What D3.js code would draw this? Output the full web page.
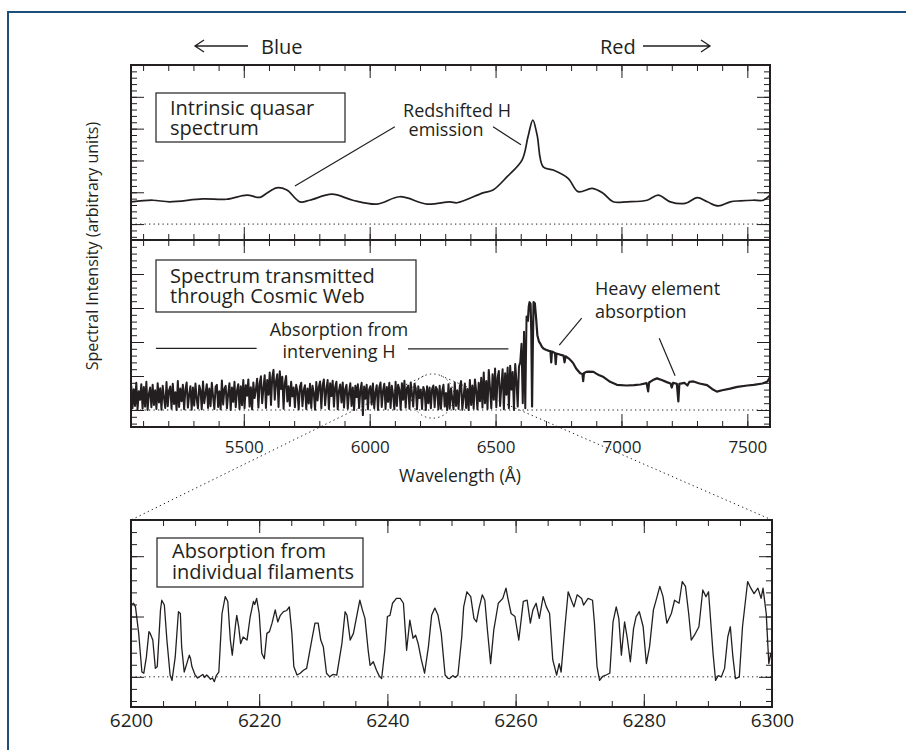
<!DOCTYPE html>
<html>
<head>
<meta charset="utf-8">
<script src="https://d3js.org/d3.v7.min.js"></script>
<style>
  body { margin: 0; background: #fff; }
  svg { display: block; font-family: "Open Sans", sans-serif; }
</style>
</head>
<body>
<svg width="906" height="750"></svg>
<script>
// ---- data ----
var mainTickLabels = [5500, 6000, 6500, 7000, 7500];
var zoomTickLabels = [6200, 6220, 6240, 6260, 6280, 6300];

// intrinsic (smooth) quasar spectrum
var quasarWave = [5052, 5138, 5206, 5337, 5432, 5512, 5564, 5591, 5631, 5671, 5723, 5762, 5850, 5933,
  6029, 6120, 6228, 6319, 6347, 6450, 6490, 6546, 6605, 6629, 6648, 6665, 6689, 6729, 6788, 6828,
  6884, 6927, 6967, 7023, 7102, 7146, 7194, 7253, 7301, 7341, 7385, 7432, 7472, 7524, 7563, 7590];
var quasarFlux = [0.70, 0.75, 0.70, 0.79, 0.78, 0.91, 0.84, 0.97, 1.14, 1.07, 0.70, 0.75, 0.94, 0.75,
  0.63, 0.86, 0.63, 0.70, 0.67, 0.98, 1.07, 1.49, 2.01, 2.75, 3.27, 2.80, 1.80, 1.70, 1.44, 1.02,
  1.12, 0.97, 0.70, 0.70, 0.75, 0.91, 0.70, 0.65, 0.83, 0.70, 0.57, 0.70, 0.73, 0.75, 0.75, 0.91];

// transmitted spectrum: Lyman-alpha forest sampled every 5 A from 5053 A
var forestStart = 5053, forestStep = 5;
var forestFlux = [
  .72,.05,.61,.12,.80,.02,.55,.30,.76,.04,  .68,.10,.83,.00,.47,.66,.08,.74,.15,.58,
  .03,.79,.22,.64,.01,.71,.36,.06,.82,.11,  .57,.69,.04,.77,.18,.52,.00,.85,.09,.63,
  .26,.74,.02,.60,.81,.07,.45,.70,.01,.66,  .13,.78,.33,.05,.72,.58,.02,.84,.20,.49,
  .76,.06,.63,.11,.80,.40,.03,.68,.74,.09,  .55,.02,.87,.16,.62,.71,.05,.48,.79,.00,
  .66,.24,.83,.08,.57,.76,.03,.70,.14,.88,  .05,.73,.42,.90,.10,.67,.02,.81,.35,.60,
  .92,.07,.78,.99,.20,.64,1.02,.06,.88,.45, 1.10,.15,.96,1.18,.30,.85,1.05,.09,1.14,.62,
  .98,.04,.79,1.00,.25,.70,.12,.83,.40,.66, .08,.74,.55,.02,.69,.80,.11,.58,.73,.03,
  .63,.19,.77,.06,.71,.50,.01,.82,.28,.68,  .84,.05,.72,.90,.14,.60,.88,.03,.79,.41,
  .86,.10,.68,.83,.02,.57,.75,.22,.81,.07,  .62,.74,.04,.50,.79,.12,.66,.00,.71,.38,
  .76,.06,.58,.80,-.15,.69,.33,.74,.02,.61, .70,.16,.78,.05,.52,.73,.00,.66,.81,.09,
  .57,.77,.03,.68,.24,.80,.06,.71,.45,.02,  .83,.12,.74,.60,.01,.79,.30,.86,.07,.65,
  .72,.04,.81,.48,.10,.77,.63,.02,.70,.35,  .60,.03,.68,.55,.00,.70,.20,.66,.05,.62,
  .72,.08,.68,.60,.02,.71,.04,.55,.74,.10,  .50,.00,.76,.05,.64,.33,.02,.81,.12,.58,
  .03,.70,.85,.01,.40,.78,.06,.62,.00,.88,  .15,.72,.04,.90,.57,.02,.80,.26,.95,.07,
  1.10,.20,.85,.03,1.18,.64,.05,1.05,.30,1.22, .08,.95,1.15,.12,.70,1.20,.02,1.08,.45,1.25,
  .05,1.30,.60,1.12,.00,1.35,.85,.10,1.28,1.40, 1.95,.20,2.30,.05,2.75
];
// emission peak and red side continuum [wavelength, flux]
var redSide = [[6628,2.6],[6632,3.05],[6635,3.17],[6639,3.12],[6642,2.3],[6645,0.10],[6648,1.9],
  [6651,3.17],[6656,3.14],[6661,2.7],[6666,2.2],[6672,2.02],[6677,1.96],[6684,1.86],[6690,1.81],
  [6700,1.77],[6712,1.74],[6718,1.73],[6721,1.40],[6724,1.72],[6730,1.70],[6736,1.68],[6739,1.35],
  [6742,1.66],[6752,1.64],[6760,1.62],[6770,1.60],[6774,1.40],[6778,1.58],[6790,1.52],[6800,1.45],
  [6809,1.37],[6820,1.22],[6836,1.08],[6845,1.06],[6848,0.85],[6851,1.08],[6860,1.12],[6870,1.13],
  [6889,1.12],[6900,1.07],[6910,1.03],[6929,0.97],[6955,0.83],[6982,0.74],[7020,0.72],[7050,0.73],
  [7075,0.75],[7100,0.79],[7106,0.55],[7110,0.81],[7125,0.88],[7141,0.93],[7160,0.88],[7180,0.82],
  [7195,0.78],[7200,0.66],[7205,0.80],[7220,0.77],[7226,0.25],[7230,0.77],[7250,0.80],[7262,0.72],
  [7270,0.83],[7286,0.84],[7310,0.78],[7340,0.73],[7360,0.62],[7379,0.54],[7400,0.58],[7432,0.63],
  [7460,0.68],[7500,0.72],[7525,0.74],[7560,0.78],[7580,0.84],[7590,0.97]];

// zoomed 6200-6300 A section [wavelength, flux]
var zoomSpectrum = [
  [6200.0,1.19],[6200.4,1.22],[6200.7,1.16],[6201.2,0.72],[6201.7,0.08],[6202.0,0.06],[6202.4,0.33],
  [6202.8,0.75],[6203.0,0.72],[6203.4,0.61],[6203.8,0.14],[6204.1,0.17],[6204.6,1.11],[6204.8,1.27],
  [6205.2,1.19],[6205.6,0.61],[6206.1,0.03],[6206.4,-0.06],[6206.9,0.33],[6207.4,1.08],[6207.7,1.05],
  [6207.9,0.50],[6208.3,0.08],[6208.7,0.22],[6209.1,0.36],[6209.3,0.30],[6209.5,0.17],[6210.0,0.03],
  [6210.4,-0.02],[6210.8,0.01],[6211.2,0.04],[6211.5,-0.01],[6211.8,0.03],[6212.1,0.00],[6212.4,-0.04],
  [6212.7,-0.02],[6213.0,-0.08],[6213.3,0.02],[6213.7,0.08],[6214.2,1.05],[6214.7,1.33],[6215.1,1.25],
  [6215.5,0.61],[6215.8,0.36],[6216.3,0.86],[6216.5,1.02],[6216.8,0.83],[6217.1,0.55],[6217.5,0.66],
  [6218.1,0.61],[6218.6,1.00],[6219.1,1.25],[6219.3,1.20],[6219.6,1.30],[6220.0,1.05],[6220.4,0.39],
  [6220.8,0.30],[6221.2,0.72],[6221.6,0.75],[6222.0,0.89],[6222.5,1.11],[6222.9,0.91],[6223.3,1.02],
  [6223.8,1.08],[6224.3,1.10],[6224.7,1.16],[6225.1,0.72],[6225.4,0.17],[6225.9,0.03],[6226.4,0.06],
  [6226.9,0.11],[6227.4,0.14],[6228.2,0.61],[6228.7,0.89],[6229.2,0.89],[6229.6,0.61],[6230.0,0.50],
  [6230.5,0.06],[6231.0,0.00],[6231.5,0.04],[6232.1,0.03],[6232.9,0.55],[6233.4,1.08],[6233.7,1.02],
  [6234.2,0.61],[6234.7,0.72],[6235.2,1.00],[6235.7,1.27],[6236.1,1.11],[6236.5,0.97],[6237.0,0.44],
  [6237.3,0.19],[6237.8,0.25],[6238.3,0.11],[6238.7,0.02],[6239.1,-0.03],[6239.6,0.44],[6240.0,1.00],
  [6240.4,1.02],[6240.8,1.22],[6241.4,1.30],[6242.0,1.30],[6242.5,1.22],[6243.0,0.44],[6243.5,0.94],
  [6244.0,0.64],[6244.4,0.69],[6244.8,0.55],[6245.3,0.28],[6245.8,0.06],[6246.4,0.50],[6246.9,1.02],
  [6247.4,1.14],[6247.9,1.02],[6248.4,0.72],[6249.0,0.03],[6249.4,-0.02],[6249.7,-0.03],[6250.2,0.02],
  [6250.6,-0.01],[6251.0,0.03],[6251.6,0.66],[6251.9,1.16],[6252.4,1.41],[6253.0,1.33],[6253.5,0.97],
  [6253.9,0.91],[6254.3,1.14],[6254.8,1.36],[6255.2,1.27],[6255.6,0.78],[6256.1,0.22],[6256.6,0.78],
  [6257.3,1.22],[6258.0,1.30],[6258.5,1.47],[6258.8,1.30],[6259.3,1.05],[6259.9,1.00],[6260.5,0.61],
  [6261.2,1.25],[6261.8,1.27],[6262.3,0.89],[6262.7,1.11],[6263.2,1.22],[6263.7,0.97],[6264.3,1.33],
  [6264.8,1.16],[6265.3,1.05],[6265.8,0.28],[6266.4,0.03],[6266.8,0.22],[6267.1,0.08],[6267.7,0.83],
  [6268.2,1.41],[6268.7,1.27],[6269.1,1.16],[6269.6,1.36],[6270.3,1.30],[6270.6,1.19],[6271.3,1.30],
  [6272.0,1.27],[6272.3,0.89],[6272.7,0.17],[6273.1,-0.06],[6273.6,0.01],[6274.1,0.03],[6274.7,0.06],
  [6275.2,0.91],[6275.7,1.16],[6276.1,0.97],[6276.5,0.36],[6277.0,0.91],[6277.4,0.66],[6277.9,0.25],
  [6278.4,0.80],[6278.8,1.00],[6279.3,1.08],[6279.9,0.83],[6280.4,0.22],[6280.9,0.50],[6281.5,1.11],
  [6282.0,1.30],[6282.5,1.50],[6283.0,1.33],[6283.6,0.89],[6284.3,1.05],[6284.8,1.27],[6285.5,1.22],
  [6286.0,1.58],[6286.5,1.50],[6287.0,1.05],[6287.4,0.61],[6287.9,0.69],[6288.6,0.83],[6289.2,1.44],
  [6289.7,1.33],[6290.1,1.41],[6290.8,0.39],[6291.2,-0.06],[6291.6,0.02],[6292.1,0.00],[6292.6,0.14],
  [6293.1,0.66],[6293.5,0.83],[6293.9,0.33],[6294.3,-0.03],[6294.9,0.00],[6295.4,0.83],[6296.2,1.58],
  [6296.7,1.47],[6297.2,1.38],[6297.8,1.47],[6298.3,1.30],[6298.6,1.47],[6299.1,1.05],[6299.5,0.22],
  [6299.8,0.39],[6300.0,0.30]];

// region of the middle panel that is enlarged below (extent of the dotted ellipse)
var lensWave = [6165, 6335], lensFlux = [-0.24, 1.06];

// ---- layout ----
var svg = d3.select("svg"),
    ink = "#231f20";

var x = d3.scaleLinear().domain([5052, 7590]).range([131, 770]),
    yTop = d3.scaleLinear().domain([-0.5, 5]).range([240, 65]),
    yMid = d3.scaleLinear().domain([-0.5, 5]).range([427, 240]),
    xZoom = d3.scaleLinear().domain([6200, 6300]).range([131, 772]),
    yZoom = d3.scaleLinear().domain([-0.5, 2.6]).range([707, 520]);

svg.append("rect").attr("width", 906).attr("height", 750).attr("fill", "#fff");
// blue page frame
svg.append("path").attr("d", "M8,750V12H906").attr("fill", "none")
    .attr("stroke", "#1d4f7c").attr("stroke-width", 2);

function frame(xs, ys, xMajor, xMinor, yMajor, yMinor) {
  var x0 = xs.range()[0], x1 = xs.range()[1],
      yb = ys.range()[0], yt = ys.range()[1],
      g = svg.append("g").attr("color", ink);
  function ticks(axis, tx, ty, vals, size) {
    g.append("g").attr("transform", "translate(" + tx + "," + ty + ")")
      .call(axis.tickValues(vals).tickSize(size).tickSizeOuter(0).tickFormat(""))
      .call(function(s) { s.select(".domain").remove(); });
  }
  ticks(d3.axisBottom(xs), 0, yb, xMinor, -6);
  ticks(d3.axisBottom(xs), 0, yb, xMajor, -13);
  ticks(d3.axisTop(xs), 0, yt, xMinor, -6);
  ticks(d3.axisTop(xs), 0, yt, xMajor, -13);
  ticks(d3.axisLeft(ys), x0, 0, yMinor, -6);
  ticks(d3.axisLeft(ys), x0, 0, yMajor, -13);
  ticks(d3.axisRight(ys), x1, 0, yMinor, -6);
  ticks(d3.axisRight(ys), x1, 0, yMajor, -13);
  g.append("rect").attr("x", x0).attr("y", yt).attr("width", x1 - x0).attr("height", yb - yt)
    .attr("fill", "none").attr("stroke", ink).attr("stroke-width", 2);
}

function zeroLine(xs, ys) {
  svg.append("line")
    .attr("x1", xs.range()[0]).attr("x2", xs.range()[1])
    .attr("y1", ys(0)).attr("y2", ys(0))
    .attr("stroke", ink).attr("stroke-width", 1).attr("stroke-dasharray", "1.3,3.2");
}

function label(lines, px, py, size, anchor, lh) {
  var t = svg.append("text").attr("x", px).attr("y", py)
    .attr("font-size", size).attr("fill", ink).attr("text-anchor", anchor || "start");
  lines.forEach(function(s, i) {
    t.append("tspan").attr("x", px).attr("dy", i ? lh : 0).text(s);
  });
  return t;
}

function box(x0, y0, w, h) {
  svg.append("rect").attr("x", x0).attr("y", y0).attr("width", w).attr("height", h)
    .attr("fill", "#fff").attr("stroke", ink).attr("stroke-width", 1.2);
}

function leader(xs, ys, a, b) {
  svg.append("line").attr("x1", xs(a[0])).attr("y1", ys(a[1])).attr("x2", xs(b[0])).attr("y2", ys(b[1]))
    .attr("stroke", ink).attr("stroke-width", 1.2);
}

var yMinorMain = d3.range(-2, 25).map(function(i) { return i / 5; }),
    yMinorZoom = d3.range(-2, 13).map(function(i) { return i / 5; }),
    xMinorMain = d3.range(5100, 7600, 100);

// ---- top panel: intrinsic spectrum ----
zeroLine(x, yTop);
svg.append("path")
  .datum(quasarFlux)
  .attr("fill", "none").attr("stroke", ink).attr("stroke-width", 1.7)
  .attr("d", d3.line().curve(d3.curveCatmullRom.alpha(0.5))
    .x(function(d, i) { return x(quasarWave[i]); })
    .y(function(d) { return yTop(d); }));
frame(x, yTop, mainTickLabels, xMinorMain, [0, 1, 2, 3, 4], yMinorMain);

box(156, 93, 189, 49);
label(["Intrinsic quasar", "spectrum"], 170, 115, 20, "start", 19.5);
label(["Redshifted H"], 457, 117, 18, "middle", 0);
label(["emission"], 446, 136, 18, "middle", 0);
leader(x, yTop, [6100, 3.06], [5703, 1.2]);
leader(x, yTop, [6490, 3.06], [6601, 2.49]);

// ---- middle panel: transmitted spectrum ----
zeroLine(x, yMid);
var forest = forestFlux.map(function(v, i) { return [forestStart + i * forestStep, v]; });
var specLine = d3.line()
    .x(function(d) { return x(d[0]); })
    .y(function(d) { return yMid(d[1]); });
svg.append("path")
  .datum(forest.concat(redSide.slice(0, 1)))
  .attr("fill", "none").attr("stroke", ink).attr("stroke-width", 2).attr("stroke-linejoin", "round")
  .attr("d", specLine);
svg.append("path")
  .datum(redSide)
  .attr("fill", "none").attr("stroke", ink).attr("stroke-width", 2.2).attr("stroke-linejoin", "round")
  .attr("d", specLine);
frame(x, yMid, mainTickLabels, xMinorMain, [0, 1, 2, 3, 4], yMinorMain);

box(156, 260, 260, 52);
label(["Spectrum transmitted", "through Cosmic Web"], 170, 283, 20, "start", 19.5);
label(["Absorption from", "intervening H"], 339, 336, 18, "middle", 22);
leader(x, yMid, [5151, 1.81], [5551, 1.81]);
leader(x, yMid, [6152, 1.80], [6551, 1.80]);
label(["Heavy element", "absorption"], 595, 295, 18, "start", 23);
leader(x, yMid, [6842, 2.70], [6753, 1.91]);
leader(x, yMid, [7150, 2.11], [7213, 1.01]);

// x tick labels + title of the main spectra
svg.append("g").attr("transform", "translate(0," + yMid.range()[0] + ")").attr("color", ink)
  .call(d3.axisBottom(x).tickValues(mainTickLabels).tickSize(0).tickPadding(14).tickFormat(d3.format("d")))
  .call(function(s) {
    s.select(".domain").remove();
    s.selectAll("text").attr("font-size", 17).attr("font-family", "Open Sans").attr("fill", ink);
  });
label(["Wavelength (Å)"], 460, 482, 17.5, "middle", 0);

// y title
svg.append("text")
  .attr("transform", "translate(98,246) rotate(-90)")
  .attr("text-anchor", "middle").attr("font-size", 16).attr("fill", ink)
  .text("Spectral Intensity (arbitrary units)");

// lens ellipse and the dotted lines down to the zoom panel
var lcx = x((lensWave[0] + lensWave[1]) / 2), lcy = yMid((lensFlux[0] + lensFlux[1]) / 2),
    lrx = (x(lensWave[1]) - x(lensWave[0])) / 2, lry = (yMid(lensFlux[0]) - yMid(lensFlux[1])) / 2;
var dotted = { stroke: ink, "stroke-width": 1, "stroke-dasharray": "1.3,3.2", fill: "none" };
function applyAttrs(sel, o) { Object.keys(o).forEach(function(k) { sel.attr(k, o[k]); }); return sel; }
applyAttrs(svg.append("ellipse").attr("cx", lcx).attr("cy", lcy).attr("rx", lrx).attr("ry", lry), dotted);

function tangentPoint(px, py) {
  var ux = (px - lcx) / lrx, uy = (py - lcy) / lry,
      d = Math.hypot(ux, uy), base = Math.atan2(uy, ux), off = Math.acos(1 / d);
  return [base + off, base - off]
    .map(function(a) { return [lcx + lrx * Math.cos(a), lcy + lry * Math.sin(a)]; })
    .sort(function(a, b) { return a[1] - b[1]; })[0];
}
[[xZoom(6200), yZoom.range()[1]], [xZoom(6300), yZoom.range()[1]]].forEach(function(c) {
  var t = tangentPoint(c[0], c[1]);
  applyAttrs(svg.append("line").attr("x1", t[0]).attr("y1", t[1]).attr("x2", c[0]).attr("y2", c[1]), dotted);
});

// ---- bottom panel: zoom on individual filaments ----
zeroLine(xZoom, yZoom);
svg.append("path")
  .datum(zoomSpectrum)
  .attr("fill", "none").attr("stroke", ink).attr("stroke-width", 1.3).attr("stroke-linejoin", "round")
  .attr("d", d3.line()
    .x(function(d) { return xZoom(d[0]); })
    .y(function(d) { return yZoom(d[1]); }));
frame(xZoom, yZoom, zoomTickLabels, d3.range(6205, 6300, 5), [0, 1, 2], yMinorZoom);

box(157, 538, 206, 49);
label(["Absorption from", "individual filaments"], 172, 558, 20, "start", 21);

svg.append("g").attr("transform", "translate(0," + yZoom.range()[0] + ")").attr("color", ink)
  .call(d3.axisBottom(xZoom).tickValues(zoomTickLabels).tickSize(0).tickPadding(6.5).tickFormat(d3.format("d")))
  .call(function(s) {
    s.select(".domain").remove();
    s.selectAll("text").attr("font-size", 19).attr("font-family", "Open Sans").attr("fill", ink);
  });

// ---- blue / red direction arrows ----
function arrow(xFrom, xTo, yy) {
  var dir = xTo > xFrom ? -1 : 1;
  svg.append("path")
    .attr("d", "M" + xFrom + "," + yy + "H" + xTo +
      "M" + (xTo + dir * 9) + "," + (yy - 6) + "L" + xTo + "," + yy + "L" + (xTo + dir * 9) + "," + (yy + 6))
    .attr("fill", "none").attr("stroke", ink).attr("stroke-width", 1.3);
}
arrow(248, 195, 46);
label(["Blue"], 261, 54, 20, "start", 0);
label(["Red"], 600, 54, 20, "start", 0);
arrow(643, 710, 46);
</script>
</body>
</html>
